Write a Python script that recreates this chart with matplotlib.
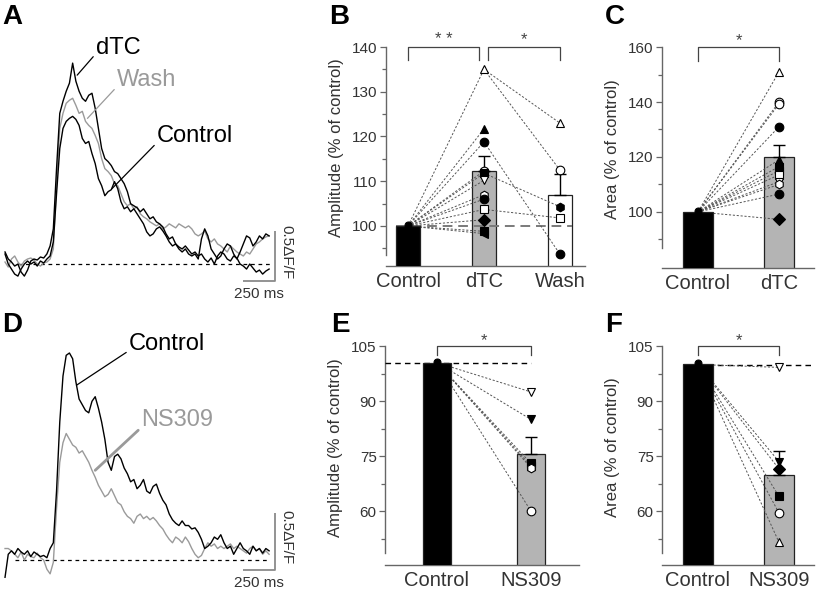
import matplotlib
matplotlib.use("Agg")
import matplotlib.pyplot as plt
from matplotlib.ticker import FixedLocator

plt.rcParams['font.family'] = ['Liberation Sans', 'DejaVu Sans']

# ---------------- data ----------------
TIME_MS = [0, 25, 50, 75, 100, 125, 150, 175, 200, 225,
           250, 275, 300, 325, 350, 375, 400, 425, 450, 475,
           500, 525, 550, 575, 600, 625, 650, 675, 700, 725,
           750, 775, 800, 825, 850, 875, 900, 925, 950, 975,
           1000, 1025, 1050, 1075, 1100, 1125, 1150, 1175, 1200, 1225,
           1250, 1275, 1300, 1325, 1350, 1375, 1400, 1425, 1450, 1475,
           1500, 1525, 1550, 1575, 1600, 1625, 1650, 1675, 1700, 1725,
           1750, 1775, 1800, 1825, 1850, 1875, 1900, 1925, 1950, 1975,
           2000, 2025, 2050]

A_DTC = [0.12, 0.05, 0.02, -0.02, 0.00, -0.08, -0.12, -0.06, 0.03, 0.05,
         0.04, 0.07, 0.06, 0.10, 0.18, 0.35, 0.95, 1.50, 1.62, 1.72,
         1.80, 2.00, 1.82, 1.72, 1.65, 1.62, 1.68, 1.70, 1.55, 1.35,
         1.15, 1.05, 1.02, 0.98, 0.92, 0.90, 0.85, 0.80, 0.72, 0.60,
         0.58, 0.56, 0.52, 0.55, 0.50, 0.45, 0.47, 0.42, 0.40, 0.37,
         0.30, 0.25, 0.27, 0.20, 0.17, 0.15, 0.18, 0.14, 0.10, 0.12,
         0.08, 0.10, 0.05, 0.02, 0.06, 0.00, 0.08, 0.12, 0.10, 0.05,
         0.03, 0.08, 0.06, 0.00, -0.02, -0.05, 0.00, -0.04, -0.08, -0.06,
         -0.10, -0.07, -0.05]
A_CONTROL = [0.10, 0.00, -0.05, -0.10, -0.12, -0.05, 0.00, 0.03, 0.00, 0.02,
             -0.02, 0.03, 0.01, 0.05, 0.08, 0.22, 0.70, 1.15, 1.35, 1.42,
             1.45, 1.47, 1.44, 1.38, 1.25, 1.20, 1.22, 1.10, 1.00, 0.85,
             0.78, 0.68, 0.72, 0.74, 0.82, 0.75, 0.62, 0.55, 0.57, 0.52,
             0.55, 0.50, 0.45, 0.40, 0.32, 0.28, 0.30, 0.35, 0.37, 0.33,
             0.28, 0.22, 0.18, 0.20, 0.15, 0.12, 0.15, 0.10, 0.08, 0.10,
             0.05, 0.25, 0.35, 0.28, 0.15, 0.10, 0.05, 0.08, 0.15, 0.20,
             0.18, 0.10, 0.05, 0.12, 0.20, 0.28, 0.26, 0.18, 0.22, 0.28,
             0.25, 0.30, 0.28]
A_WASH = [0.02, -0.03, 0.05, 0.08, 0.02, -0.02, 0.03, 0.05, 0.06, 0.04,
          0.00, -0.02, 0.01, 0.02, 0.05, 0.15, 0.80, 1.35, 1.50, 1.60,
          1.63, 1.65, 1.58, 1.50, 1.52, 1.42, 1.38, 1.35, 1.28, 1.20,
          1.05, 0.95, 0.92, 0.88, 0.80, 0.78, 0.70, 0.62, 0.58, 0.60,
          0.55, 0.57, 0.50, 0.47, 0.45, 0.42, 0.40, 0.38, 0.40, 0.35,
          0.37, 0.40, 0.38, 0.36, 0.40, 0.38, 0.36, 0.38, 0.35, 0.30,
          0.28, 0.30, 0.33, 0.25, 0.22, 0.25, 0.20, 0.18, 0.15, 0.12,
          0.18, 0.15, 0.12, 0.10, 0.08, 0.12, 0.10, 0.15, 0.20, 0.22,
          0.25, 0.27, 0.28]
D_CONTROL = [-0.15, 0.05, 0.08, 0.05, 0.10, 0.07, 0.05, 0.08, 0.03, 0.07,
             0.05, 0.03, 0.04, 0.02, 0.10, 0.15, 0.60, 1.20, 1.60, 1.78,
             1.80, 1.75, 1.55, 1.40, 1.35, 1.30, 1.28, 1.38, 1.42, 1.32,
             1.20, 1.05, 0.85, 0.78, 0.90, 0.92, 0.88, 0.80, 0.75, 0.68,
             0.70, 0.62, 0.65, 0.70, 0.60, 0.58, 0.64, 0.66, 0.58, 0.52,
             0.48, 0.40, 0.35, 0.32, 0.30, 0.34, 0.30, 0.30, 0.27, 0.28,
             0.24, 0.18, 0.10, 0.12, 0.15, 0.20, 0.18, 0.22, 0.15, 0.10,
             0.12, 0.05, 0.10, 0.15, 0.10, 0.08, 0.05, 0.12, 0.08, 0.10,
             0.06, 0.10, 0.08]
D_NS309 = [0.10, 0.10, 0.08, 0.05, 0.02, 0.07, 0.00, 0.05, 0.03, 0.02,
           0.06, 0.02, 0.00, -0.08, -0.12, -0.02, 0.45, 0.85, 1.02, 1.10,
           1.05, 1.00, 0.98, 0.93, 0.95, 0.90, 0.85, 0.78, 0.72, 0.65,
           0.60, 0.55, 0.57, 0.62, 0.56, 0.50, 0.48, 0.42, 0.38, 0.36,
           0.32, 0.38, 0.40, 0.36, 0.38, 0.35, 0.37, 0.34, 0.30, 0.27,
           0.22, 0.18, 0.15, 0.20, 0.18, 0.15, 0.20, 0.16, 0.10, 0.05,
           0.02, 0.04, 0.10, 0.15, 0.12, 0.14, 0.10, 0.12, 0.10, 0.12,
           0.14, 0.10, 0.12, 0.10, 0.08, 0.06, 0.10, 0.12, 0.08, 0.10,
           0.05, 0.08, 0.05]

SCALE_T_MS = 250
SCALE_DFF = 0.5

# Panel B: amplitude, dTC / wash
B_CATS = ['Control', 'dTC', 'Wash']
B_MEANS = [100.0, 112.4, 107.0]
B_SEM = [0.0, 3.2, 4.6]
B_TICKS = [100, 110, 120, 130, 140]
B_MINOR = [95, 105, 115, 125, 135]
B_DTC = [135.0, 121.7, 118.8, 112.3, 111.8, 110.2, 107.0, 106.0, 103.7, 101.4, 98.8, 98.3]
B_DTC_MK = ['^', '^', 'o', 'o', 's', 'v', 'h', 'o', 's', 'D', 's', '<']
B_DTC_FILL = [False, True, True, False, True, False, False, True, False, True, True, True]
B_WASH_FROM = [135.0, 135.0, 118.8, 111.8, 103.7]
B_WASH = [123.0, 112.5, 93.7, 104.3, 101.8]
B_WASH_MK = ['^', 'o', 'o', 'h', 's']
B_WASH_FILL = [False, False, True, True, False]

# Panel C: area, dTC
C_CATS = ['Control', 'dTC']
C_MEANS = [100.0, 120.0]
C_SEM = [0.0, 4.3]
C_TICKS = [100, 120, 140, 160]
C_MINOR = [90, 110, 130, 150]
C_DTC = [151.0, 140.0, 139.3, 131.0, 119.0, 116.5, 115.0, 113.5, 111.0, 110.0, 106.5, 97.3]
C_DTC_MK = ['^', 'o', 'o', 'o', '^', 's', 's', 's', 'v', 'h', 'o', 'D']
C_DTC_FILL = [False, False, False, True, True, True, True, False, False, False, True, True]

# Panel E: amplitude, NS309
E_CATS = ['Control', 'NS309']
E_MEANS = [100.5, 75.7]
E_SEM = [0.0, 4.5]
EF_TICKS = [60, 75, 90, 105]
EF_MINOR = [52.5, 67.5, 82.5, 97.5]
E_NS = [92.5, 85.0, 73.0, 72.3, 71.8, 60.0]
E_NS_MK = ['v', 'v', 's', 's', 'h', 'o']
E_NS_FILL = [False, True, True, True, False, False]

# Panel F: area, NS309
F_CATS = ['Control', 'NS309']
F_MEANS = [100.0, 69.8]
F_SEM = [0.0, 6.7]
F_NS = [99.2, 73.5, 71.5, 64.0, 59.5, 51.5]
F_NS_MK = ['v', 'v', 'D', 's', 'o', '^']
F_NS_FILL = [False, True, True, True, False, False]

# ---------------- layout helpers ----------------
W, H = 817, 592
fig = plt.figure(figsize=(W / 100, H / 100), dpi=100)


def axes_px(l, t, r, b):
    return fig.add_axes([l / W, 1 - b / H, (r - l) / W, (b - t) / H])


def ftext(x, y, s, **kw):
    return fig.text(x / W, 1 - y / H, s, **kw)


def fig_point(x, y):
    return (x / W, 1 - y / H)


GRAY_TR = '#9a9a9a'
AX_COL = '#666666'
TXT_COL = '#333333'


def trace_panel(box, ylim, traces, sb_t0, sb_y0, base_span):
    ax = axes_px(*box)
    ax.set_xlim(-39, 2290)
    ax.set_ylim(*ylim)
    ax.axis('off')
    ax.plot(base_span, [0, 0], color='black', lw=0.9, ls=(0, (3, 3)), zorder=1)
    for y, c in traces:
        ax.plot(TIME_MS, y, color=c, lw=1.0, zorder=2)
    ax.plot([sb_t0, sb_t0 + SCALE_T_MS, sb_t0 + SCALE_T_MS],
            [sb_y0, sb_y0, sb_y0 + SCALE_DFF], color='#8a8a8a', lw=1.3,
            clip_on=False, solid_capstyle='butt')
    ax.annotate('250 ms', xy=(sb_t0 + SCALE_T_MS / 2, sb_y0), xytext=(0, -4),
                textcoords='offset points', ha='center', va='top',
                fontsize=11, color=TXT_COL, annotation_clip=False)
    ax.annotate('0.5ΔF/F', xy=(sb_t0 + SCALE_T_MS, sb_y0 + SCALE_DFF / 2),
                xytext=(8, 3), textcoords='offset points', ha='center',
                va='center', rotation=-90, fontsize=11, color=TXT_COL,
                annotation_clip=False)
    return ax


def leader(ax, label, xy, text_xy, color, fs=17, lw=0.9, rel=(0.0, 0.3)):
    ax.annotate(label, xy=xy, xycoords='data',
                xytext=fig_point(*text_xy), textcoords='figure fraction',
                ha='left', va='center', fontsize=fs, color=color,
                arrowprops=dict(arrowstyle='-', color=color, lw=lw,
                                shrinkA=0, shrinkB=0, relpos=rel),
                annotation_clip=False)


def style_bar_axes(ax, xlim, ylim, spine_lo, spine_hi, ticks, minor, cats, cat_x):
    ax.set_xlim(*xlim)
    ax.set_ylim(*ylim)
    for s in ('top', 'right'):
        ax.spines[s].set_visible(False)
    ax.spines['left'].set_bounds(spine_lo, spine_hi)
    ax.spines['left'].set_color(AX_COL)
    ax.spines['bottom'].set_color(AX_COL)
    ax.spines['left'].set_linewidth(1.0)
    ax.spines['bottom'].set_linewidth(1.0)
    ax.yaxis.set_major_locator(FixedLocator(ticks))
    ax.yaxis.set_minor_locator(FixedLocator(minor))
    ax.tick_params(axis='y', which='major', direction='out', length=4,
                   width=0.9, color=AX_COL, labelsize=11, labelcolor=TXT_COL, pad=2)
    ax.tick_params(axis='y', which='minor', direction='out', length=3,
                   width=0.9, color=AX_COL)
    ax.set_xticks(cat_x)
    ax.set_xticklabels(cats, fontsize=14.5, color=TXT_COL)
    ax.tick_params(axis='x', length=0, pad=4)
    ax.patch.set_alpha(0)


def bars(ax, xs, means, sems, fills, width):
    for x, m, s, fc in zip(xs, means, sems, fills):
        z = 4 if fc == 'black' else 2
        ax.bar(x, m, width=width, bottom=0, color=fc, edgecolor='#222222',
               lw=0.9, zorder=z)
        if s > 0:
            ax.errorbar(x, m, yerr=[[0], [s]], fmt='none', ecolor='black',
                        elinewidth=1.0, capsize=4, capthick=1.0, zorder=5)


def links(ax, x0, y0s, x1, y1s, color='#555555'):
    for a, b in zip(y0s, y1s):
        ax.plot([x0, x1], [a, b], color=color, lw=0.7, ls=(0, (2.2, 1.8)), zorder=3)


def markers(ax, x, vals, mks, fills, ms=6.2):
    for v, m, f in zip(vals, mks, fills):
        ax.plot([x], [v], ls='none', marker=m, ms=ms,
                mfc='black' if f else 'white', mec='black', mew=0.8, zorder=6,
                clip_on=False)


def bracket(ax, x0, x1, y, drop, star, star_y):
    ax.plot([x0, x0, x1, x1], [y - drop, y, y, y - drop], color='#444444',
            lw=0.9, clip_on=False, zorder=7)
    ax.text((x0 + x1) / 2, star_y, star, ha='center', va='center',
            fontsize=12, color='#444444')


# ---------------- Panel A ----------------
axA = trace_panel((0, 40, 300, 300), (-0.358, 2.23),
                  [(A_WASH, GRAY_TR), (A_CONTROL, 'black'), (A_DTC, 'black')],
                  1846, -0.17, [100, 2080])
leader(axA, 'dTC', (560, 1.88), (96, 48), 'black', rel=(0.0, 0.25))
leader(axA, 'Wash', (640, 1.45), (117, 80), GRAY_TR, rel=(0.0, 0.2))
leader(axA, 'Control', (830, 0.75), (157, 136), 'black', rel=(0.0, 0.2))

# ---------------- Panel D ----------------
axD = trace_panel((0, 330, 300, 592), (-0.278, 2.0),
                  [(D_NS309, GRAY_TR), (D_CONTROL, 'black')],
                  1846, -0.087, [80, 2040])
leader(axD, 'Control', (555, 1.52), (129, 344), 'black', rel=(0.0, 0.2))
leader(axD, 'NS309', (700, 0.78), (141, 420), GRAY_TR, lw=2.0, rel=(0.0, 0.15))

# ---------------- Panel B ----------------
axB = axes_px(386, 30, 585, 266)
style_bar_axes(axB, (-0.29, 2.33), (91.06, 143.8), 93.5, 140, B_TICKS, B_MINOR,
               B_CATS, [0, 1, 2])
bars(axB, [0, 1, 2], B_MEANS, B_SEM, ['black', '#b4b4b4', 'white'], 0.32)
axB.plot([-0.16, 2.16], [100, 100], color='#7a7a7a', lw=1.4, ls=(0, (5, 3)), zorder=3)
links(axB, 0, [100] * len(B_DTC), 1, B_DTC)
links(axB, 1, B_WASH_FROM, 2, B_WASH)
markers(axB, 0, [100.3], ['o'], [True], ms=5)
markers(axB, 1, B_DTC, B_DTC_MK, B_DTC_FILL)
markers(axB, 2, B_WASH, B_WASH_MK, B_WASH_FILL)
axB.set_ylabel('Amplitude (% of control)', fontsize=12, color=TXT_COL, labelpad=6)
bracket(axB, 0, 0.93, 140, 3, '* *', 141.6)
bracket(axB, 1.05, 2.0, 140, 3, '*', 141.6)

# ---------------- Panel C ----------------
axC = axes_px(662, 30, 814, 268)
style_bar_axes(axC, (-0.444, 1.432), (79.6, 166.2), 87, 160, C_TICKS, C_MINOR,
               C_CATS, [0, 1])
bars(axC, [0, 1], C_MEANS, C_SEM, ['black', '#b4b4b4'], 0.36)
links(axC, 0, [100] * len(C_DTC), 1, C_DTC)
markers(axC, 0, [100.5], ['o'], [True], ms=5)
markers(axC, 1, C_DTC, C_DTC_MK, C_DTC_FILL)
axC.set_ylabel('Area (% of control)', fontsize=12, color=TXT_COL, labelpad=6)
bracket(axC, 0, 1, 160, 5, '*', 162.5)

# ---------------- Panel E ----------------
axE = axes_px(385, 330, 579, 565)
style_bar_axes(axE, (-0.553, 1.511), (45.3, 109.4), 48.5, 105, EF_TICKS, EF_MINOR,
               E_CATS, [0, 1])
bars(axE, [0, 1], E_MEANS, E_SEM, ['black', '#b4b4b4'], 0.30)
axE.plot([-0.553, 1.0], [E_MEANS[0], E_MEANS[0]], color='black', lw=1.0,
         ls=(0, (4, 3)), zorder=3)
links(axE, 0, [E_MEANS[0]] * len(E_NS), 1, E_NS)
markers(axE, 0, [100.8], ['o'], [True], ms=5)
markers(axE, 1, E_NS, E_NS_MK, E_NS_FILL)
axE.set_ylabel('Amplitude (% of control)', fontsize=12, color=TXT_COL, labelpad=6)
bracket(axE, 0, 1, 105, 2.5, '*', 106.6)

# ---------------- Panel F ----------------
axF = axes_px(662, 330, 814, 565)
style_bar_axes(axF, (-0.444, 1.432), (45.3, 109.4), 48.5, 105, EF_TICKS, EF_MINOR,
               F_CATS, [0, 1])
bars(axF, [0, 1], F_MEANS, F_SEM, ['black', '#b4b4b4'], 0.36)
axF.plot([0, 1.432], [99.8, 99.8], color='black', lw=1.0, ls=(0, (4, 3)), zorder=3)
links(axF, 0, [F_MEANS[0]] * len(F_NS), 1, F_NS)
markers(axF, 0, [100.3], ['o'], [True], ms=5)
markers(axF, 1, F_NS, F_NS_MK, F_NS_FILL)
axF.set_ylabel('Area (% of control)', fontsize=12, color=TXT_COL, labelpad=6)
bracket(axF, 0, 1, 105, 2.5, '*', 106.6)

# ---------------- panel letters ----------------
for s, x, y in [('A', 2, 4), ('B', 329, 4), ('C', 605, 4),
                ('D', 2, 312), ('E', 331, 312), ('F', 605, 312)]:
    ftext(x, y, s, fontsize=20, fontweight='bold', ha='left', va='top', color='black')

fig.savefig('out.png', dpi=100)
